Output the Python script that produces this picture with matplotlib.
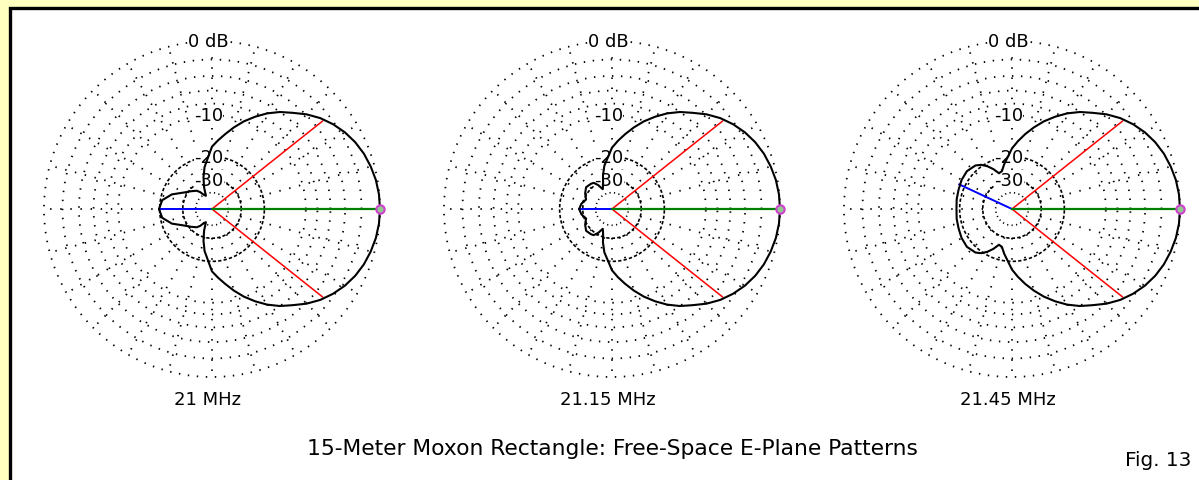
import numpy as np
import matplotlib
matplotlib.use('Agg')
import matplotlib.pyplot as plt
from matplotlib.patches import Rectangle

W, H = 1199, 481

# azimuth angles (deg) for one half of each pattern, mirrored for the other half
angles = np.array([0, 5, 10, 15, 20, 25, 30, 35, 40, 45, 50, 55, 60, 65, 70, 75,
                   80, 85, 90, 100, 105, 110, 115, 120, 125, 130, 140, 150, 160,
                   170, 180])

# forward lobe in dB, 0..90 deg (about the same at all three frequencies)
front_21000 = [0, -0.04, -0.16, -0.38, -0.66, -1.05, -1.56, -2.2, -2.96, -3.9,
               -5.0, -6.0, -7.2, -8.6, -10.1, -11.8, -13.6, -15.3, -17.0]
front_21150 = [0, -0.04, -0.16, -0.38, -0.66, -1.05, -1.56, -2.2, -2.96, -3.9,
               -5.0, -6.0, -7.2, -8.6, -10.1, -11.8, -13.6, -15.4, -17.3]
front_21450 = [0, -0.04, -0.16, -0.38, -0.66, -1.05, -1.56, -2.2, -2.96, -3.9,
               -5.0, -6.0, -7.2, -8.6, -10.1, -11.8, -13.6, -15.5, -17.5]
# sides and rear in dB, 100..180 deg
rear_21000 = [-23.5, -28, -34, -42, -40, -36, -33.5, -31, -28, -23.5, -20.6, -19.8]
rear_21150 = [-23, -27, -32, -35, -31, -28.5, -28, -27.5, -29, -31, -29, -28]
rear_21450 = [-22.5, -25, -25.5, -23, -21, -19.5, -18.6, -18, -18.2, -18.6, -18.8, -19]

patterns = [front_21000 + rear_21000, front_21150 + rear_21150,
            front_21450 + rear_21450]
freq_labels = ['21 MHz', '21.15 MHz', '21.45 MHz']

# -3 dB beamwidth half angle and worst rear lobe for each frequency
half_bw = [38.5, 38.5, 38.5]
rear_angle = [180, 180, 155]
rear_db = [-19.8, -28, -18.2]

ring_db = [0, -2, -4, -6, -8, -10]
dark_ring_db = [-20, -30]
inner_ring_db = [-40]
ring_labels = {0: '0 dB', -10: '-10', -20: '-20', -30: '-30'}
spoke_step = 15

title = '15-Meter Moxon Rectangle: Free-Space E-Plane Patterns'
fig_label = 'Fig. 13'


def arrl(db):
    # ARRL log scale: 0.89 per 2 dB
    return 0.89 ** (-np.asarray(db, dtype=float) / 2.0)


fig = plt.figure(figsize=(W / 100, H / 100), dpi=100)
fig.patch.set_facecolor('#FFFFC0')
fig.patches.append(Rectangle((9.5 / W, -0.2), 1.2, 1.2 - 8.5 / H,
                             transform=fig.transFigure, fc='white', ec='black',
                             lw=2.4, zorder=-10))

centers = [212, 612, 1012]
cy = 210
R = 168
dots = (0, (0.8, 4.2))
full = np.radians(np.linspace(0, 360, 721))

for i, cx in enumerate(centers):
    ax = fig.add_axes([(cx - R) / W, (H - cy - R) / H, 2 * R / W, 2 * R / H],
                      projection='polar')
    ax.set_ylim(0, 1)
    ax.axis('off')
    ax.patch.set_alpha(0)

    # grid
    for d in ring_db:
        ax.plot(full, np.full_like(full, arrl(d)), color='black', lw=1.3,
                linestyle=dots, zorder=1, clip_on=False)
    for d in dark_ring_db:
        ax.plot(full, np.full_like(full, arrl(d)), color='black', lw=1.2,
                linestyle=(0, (2.0, 1.3)), zorder=1)
    for d in inner_ring_db:
        ax.plot(full, np.full_like(full, arrl(d)), color='black', lw=1.2,
                linestyle=(0, (0.7, 2.0)), zorder=1)
    for a in range(0, 360, spoke_step):
        ax.plot([np.radians(a)] * 2, [arrl(-30), 1], color='black', lw=1.3,
                linestyle=(0, (0.8, 4.8)), zorder=1)

    for d, s in ring_labels.items():
        ax.annotate(s, xy=(np.pi / 2, arrl(d)), xytext=(-2.5, 0),
                    textcoords='offset points', ha='center', va='center',
                    fontsize=13, bbox=dict(fc='white', ec='none', pad=0.2),
                    zorder=3)

    # beamwidth, front and rear lines
    for sgn in (1, -1):
        ax.plot([0, np.radians(sgn * half_bw[i])], [0, arrl(-3)],
                color='red', lw=1.1, zorder=4)
    ax.plot([0, np.radians(rear_angle[i])], [0, arrl(rear_db[i])],
            color='blue', lw=1.4, zorder=4)
    ax.plot([0, 0], [0, 1], color='green', lw=1.6, zorder=4)
    ax.plot([0], [1], marker='o', ms=6, mfc='#90c890', mec='#d040d0',
            mew=1.5, zorder=6, clip_on=False)

    # pattern
    db = np.asarray(patterns[i], dtype=float)
    th = np.radians(np.concatenate([angles, -angles[::-1]]))
    rr = arrl(np.concatenate([db, db[::-1]]))
    ax.plot(th, rr, color='black', lw=1.5, zorder=5, clip_on=False)

    fig.text((cx - 4) / W, 1 - 400 / H, freq_labels[i], ha='center', va='center',
             fontsize=13)

fig.text(612 / W, 1 - 449 / H, title, ha='center', va='center', fontsize=15.7)
fig.text(1158 / W, 1 - 460 / H, fig_label, ha='center', va='center', fontsize=14.4)

fig.savefig('out.png', dpi=100, facecolor=fig.get_facecolor())
